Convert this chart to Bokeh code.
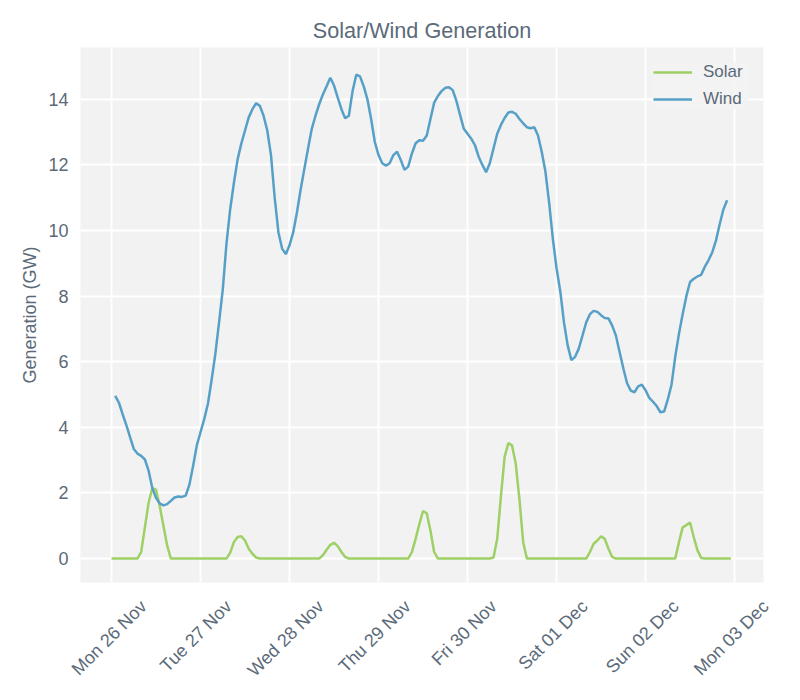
import math
import pandas as pd
from bokeh.plotting import figure
from bokeh.models import ColumnDataSource, FixedTicker, Range1d, Legend, LegendItem
from bokeh.core.properties import value
from bokeh.embed import file_html
from bokeh.resources import INLINE

# ---- data (GW), hourly ----
wind_start = "2018-11-26 01:00"
wind_gw = [
    4.96, 4.75, 4.40, 4.07, 3.70, 3.34, 3.20, 3.13, 3.02, 2.68,
    2.15, 1.85, 1.68, 1.62, 1.66, 1.76, 1.86, 1.89, 1.88, 1.92,
    2.25, 2.82, 3.45, 3.85, 4.25, 4.72, 5.45, 6.24, 7.20, 8.20,
    9.60, 10.65, 11.45, 12.17, 12.65, 13.05, 13.45, 13.70, 13.88, 13.80,
    13.50, 13.05, 12.30, 11.00, 9.95, 9.45, 9.28, 9.55, 9.95, 10.55,
    11.25, 11.88, 12.50, 13.10, 13.50, 13.85, 14.15, 14.40, 14.66, 14.42,
    14.05, 13.70, 13.42, 13.50, 14.25, 14.75, 14.70, 14.40, 14.00, 13.40,
    12.70, 12.30, 12.05, 11.98, 12.05, 12.30, 12.40, 12.15, 11.85, 11.95,
    12.35, 12.66, 12.75, 12.74, 12.90, 13.40, 13.90, 14.10, 14.25, 14.35,
    14.37, 14.28, 13.95, 13.52, 13.10, 12.95, 12.80, 12.60, 12.25, 12.00,
    11.78, 12.05, 12.50, 12.95, 13.22, 13.43, 13.60, 13.62, 13.56, 13.40,
    13.27, 13.15, 13.12, 13.15, 12.90, 12.40, 11.80, 10.85, 9.75, 8.85,
    8.15, 7.20, 6.50, 6.05, 6.15, 6.40, 6.80, 7.20, 7.45, 7.55,
    7.52, 7.42, 7.33, 7.32, 7.10, 6.80, 6.30, 5.80, 5.35, 5.12,
    5.07, 5.25, 5.30, 5.13, 4.90, 4.78, 4.65, 4.46, 4.48, 4.85,
    5.30, 6.15, 6.85, 7.45, 8.00, 8.43, 8.53, 8.60, 8.65, 8.90,
    9.10, 9.34, 9.70, 10.20, 10.65, 10.92,
]

solar_start = "2018-11-26 00:00"
solar_gw = [
    # Mon 26 Nov
    0, 0, 0, 0, 0, 0, 0, 0, 0.20, 0.95, 1.70, 2.15,
    2.10, 1.60, 1.00, 0.40, 0, 0, 0, 0, 0, 0, 0, 0,
    # Tue 27 Nov
    0, 0, 0, 0, 0, 0, 0, 0, 0.18, 0.50, 0.66, 0.68,
    0.55, 0.30, 0.15, 0.03, 0, 0, 0, 0, 0, 0, 0, 0,
    # Wed 28 Nov
    0, 0, 0, 0, 0, 0, 0, 0, 0, 0.10, 0.27, 0.42,
    0.48, 0.38, 0.20, 0.05, 0, 0, 0, 0, 0, 0, 0, 0,
    # Thu 29 Nov
    0, 0, 0, 0, 0, 0, 0, 0, 0, 0.20, 0.60, 1.05,
    1.45, 1.38, 0.85, 0.20, 0, 0, 0, 0, 0, 0, 0, 0,
    # Fri 30 Nov
    0, 0, 0, 0, 0, 0, 0, 0.03, 0.60, 1.90, 3.10, 3.52,
    3.45, 2.89, 1.80, 0.50, 0, 0, 0, 0, 0, 0, 0, 0,
    # Sat 01 Dec
    0, 0, 0, 0, 0, 0, 0, 0, 0, 0.20, 0.45, 0.55,
    0.68, 0.60, 0.30, 0.05, 0, 0, 0, 0, 0, 0, 0, 0,
    # Sun 02 Dec
    0, 0, 0, 0, 0, 0, 0, 0, 0, 0.50, 0.95, 1.02,
    1.10, 0.65, 0.25, 0.02, 0, 0, 0, 0, 0, 0, 0, 0,
]

series_names = ["Solar", "Wind"]
series_colors = ["#9dd065", "#56a0c8"]
day_ticks = ["2018-11-26", "2018-11-27", "2018-11-28", "2018-11-29",
             "2018-11-30", "2018-12-01", "2018-12-02", "2018-12-03"]
day_labels = [pd.Timestamp(d).strftime("%a %d %b") for d in day_ticks]
y_ticks = [0, 2, 4, 6, 8, 10, 12, 14]

# layout only: horizontal shift (px) of each rotated tick label's anchor
label_shift_px = [32, 28, 31, 29, 26, 28, 30, 31]

TEXT = "#5b6a79"
FONT = "Liberation Sans"

t0 = pd.Timestamp(day_ticks[0])
x_start = t0 - pd.Timedelta(hours=8.36)
x_end = t0 + pd.Timedelta(hours=175.8)
y0 = -0.73

wind_src = ColumnDataSource(dict(
    t=pd.date_range(wind_start, periods=len(wind_gw), freq="h"), v=wind_gw))
solar_src = ColumnDataSource(dict(
    t=pd.date_range(solar_start, periods=len(solar_gw), freq="h"), v=solar_gw))

p = figure(width=784, height=684, x_axis_type="datetime",
           output_backend="svg", toolbar_location=None,
           x_range=Range1d(x_start, x_end), y_range=Range1d(y0, 15.58),
           min_border_left=80, min_border_right=21, min_border_top=47,
           min_border_bottom=102)

p.title.text = "Solar/Wind Generation"
p.title.align = "center"
p.title.text_font = FONT
p.title.text_font_size = "21.6px"
p.title.text_font_style = "normal"
p.title.text_color = TEXT

p.background_fill_color = "#f2f2f2"
p.border_fill_color = "white"
p.outline_line_color = None

r_solar = p.line("t", "v", source=solar_src, line_color=series_colors[0], line_width=2.5)
r_wind = p.line("t", "v", source=wind_src, line_color=series_colors[1], line_width=2.5)

tick_ms = [pd.Timestamp(d).value // 10**6 for d in day_ticks]
p.xaxis.visible = False
p.xgrid.ticker = FixedTicker(ticks=tick_ms)

p.yaxis.ticker = FixedTicker(ticks=y_ticks)
p.yaxis.axis_label = "Generation (GW)"
ax = p.yaxis[0]
ax.axis_line_color = None
ax.major_tick_line_color = None
ax.minor_tick_line_color = None
ax.major_label_text_color = TEXT
ax.major_label_text_font = FONT
ax.major_label_text_font_size = "18px"
ax.major_label_standoff = 6
ax.axis_label_text_color = TEXT
ax.axis_label_text_font = FONT
ax.axis_label_text_font_size = "18px"
ax.axis_label_text_font_style = "normal"

p.xgrid.grid_line_color = "white"
p.ygrid.grid_line_color = "white"
p.xgrid.grid_line_width = 2
p.ygrid.grid_line_width = 2

# rotated x tick labels as a text glyph drawn at overlay level (below the frame)
lab_src = ColumnDataSource(dict(
    t=[pd.Timestamp(d) for d in day_ticks], txt=day_labels,
    y=[y0] * len(day_ticks), dx=label_shift_px))
p.text(x="t", y="y", text="txt", x_offset="dx", y_offset=21, source=lab_src,
       angle=math.pi / 4, text_align="right", text_baseline="middle",
       text_font=value(FONT), text_font_size="18px", text_color=TEXT,
       level="overlay")

legend = Legend(items=[LegendItem(label=series_names[0], renderers=[r_solar]),
                       LegendItem(label=series_names[1], renderers=[r_wind])],
                location="top_right")
legend.background_fill_color = "#f2f2f2"
legend.background_fill_alpha = 0.8
legend.border_line_color = None
legend.label_text_color = TEXT
legend.label_text_font = FONT
legend.label_text_font_size = "17px"
legend.glyph_width = 39
legend.glyph_height = 20
legend.label_height = 20
legend.label_width = 45
legend.label_standoff = 11
legend.spacing = 7
legend.margin = 15
legend.padding = 10
p.add_layout(legend)

open("out.html", "w").write(file_html(p, INLINE))
